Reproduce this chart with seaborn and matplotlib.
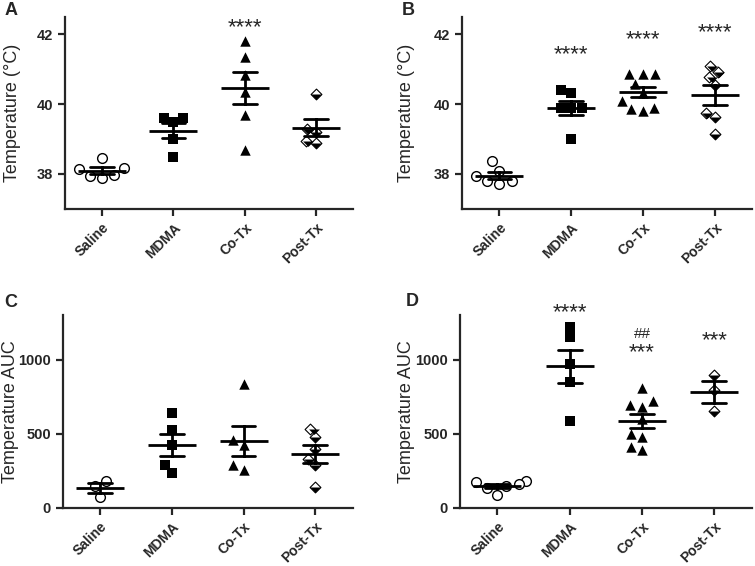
import numpy as np
import pandas as pd
import matplotlib
matplotlib.use('Agg')
import matplotlib.pyplot as plt
from matplotlib.markers import MarkerStyle
import seaborn as sns

groups = ['Saline', 'MDMA', 'Co-Tx', 'Post-Tx']

# Panel A - peak temperature (°C)
a_saline = [38.47, 38.18, 38.14, 37.97, 37.88, 37.95]
a_mdma = [39.6, 39.5, 39.6, 39.0, 38.5]
a_cotx = [41.8, 41.35, 40.85, 40.35, 39.7, 38.7]
a_posttx = [40.3, 39.2, 39.3, 38.9, 38.95]

# Panel B - peak temperature (°C)
b_saline = [38.36, 38.08, 37.95, 37.79, 37.71, 37.79]
b_mdma = [40.31, 40.4, 39.89, 39.89, 39.89, 39.0]
b_cotx = [40.86, 40.86, 40.86, 40.57, 40.33, 40.09, 39.86, 39.81, 39.9]
b_posttx = [40.93, 41.09, 40.78, 40.55, 39.76, 39.62, 39.14]

# Panel C - temperature AUC
c_saline = [180, 148, 74]
c_mdma = [643, 528, 422, 288, 236]
c_cotx = [838, 456, 422, 288, 254]
c_posttx = [535, 479, 400, 333, 292, 142]

# Panel D - temperature AUC
d_saline = [180, 175, 162, 150, 135, 90]
d_mdma = [1217, 1149, 971, 848, 586]
d_cotx = [807, 718, 680, 691, 602, 501, 478, 389, 411]
d_posttx = [897, 796, 651]

# significance labels: (group, text, y, fontsize)
a_marks = [('Co-Tx', '****', 42.2, 16)]
b_marks = [('MDMA', '****', 41.41, 16), ('Co-Tx', '****', 41.85, 16), ('Post-Tx', '****', 42.05, 16)]
c_marks = []
d_marks = [('MDMA', '****', 1315, 16), ('Co-Tx', '##', 1172, 11), ('Co-Tx', '***', 1045, 16),
           ('Post-Tx', '***', 1125, 16)]


def to_frame(vals):
    rows = []
    for g, v in zip(groups, vals):
        rows += [(g, x) for x in v]
    return pd.DataFrame(rows, columns=['group', 'value'])


sns.set_style('ticks')
plt.rcParams['font.family'] = ['Liberation Sans', 'DejaVu Sans']

fig = plt.figure(figsize=(7.55, 5.66), dpi=100)

panels = [
    ('A', [a_saline, a_mdma, a_cotx, a_posttx], a_marks, 'Temperature (°C)', (37, 42.5), [38, 40, 42],
     [0.086, 0.631, 0.382, 0.339], (0.006, 0.981), -0.153),
    ('B', [b_saline, b_mdma, b_cotx, b_posttx], b_marks, 'Temperature (°C)', (37, 42.5), [38, 40, 42],
     [0.612, 0.631, 0.384, 0.339], (0.532, 0.981), -0.162),
    ('C', [c_saline, c_mdma, c_cotx, c_posttx], c_marks, 'Temperature AUC', (0, 1300), [0, 500, 1000],
     [0.083, 0.1025, 0.384, 0.341], (0.006, 0.466), -0.152),
    ('D', [d_saline, d_mdma, d_cotx, d_posttx], d_marks, 'Temperature AUC', (0, 1300), [0, 500, 1000],
     [0.609, 0.1025, 0.387, 0.341], (0.538, 0.468), -0.154),
]

styles = {
    'Saline': dict(marker='o', color='white', edgecolor='black', linewidth=1, size=7),
    'MDMA': dict(marker='s', color='black', edgecolor='black', linewidth=0, size=6.5),
    'Co-Tx': dict(marker='^', color='black', edgecolor='black', linewidth=0, size=7.5),
    'Post-Tx': dict(marker='D', color='white', edgecolor='black', linewidth=0.8, size=5.5),
}
spread = 1.1  # swarm computed with slightly bigger markers, then shrunk (GraphPad-like spacing)

axes = []
for letter, vals, marks, ylabel, ylim, yticks, pos, lpos, ylab_x in panels:
    ax = fig.add_axes(pos)
    axes.append(ax)
    df = to_frame(vals)
    for g in groups:
        sub = df[df['group'] == g]
        st = dict(styles[g])
        st['size'] = st['size'] * spread
        sns.swarmplot(data=sub, x='group', y='value', order=groups, ax=ax, zorder=2, **st)
        if g == 'Post-Tx':
            # black lower half of the diamond
            st.update(marker=MarkerStyle('D', fillstyle='bottom'), color='black', linewidth=0)
            sns.swarmplot(data=sub, x='group', y='value', order=groups, ax=ax, zorder=2.1, **st)

    # mean +/- SEM
    sns.pointplot(data=df, x='group', y='value', order=groups, ax=ax, errorbar='se',
                  capsize=0.33, color='black', marker='_', markersize=34, markeredgewidth=2,
                  linestyle='none', err_kws={'linewidth': 2}, zorder=5)

    for g, txt, y, fs in marks:
        ax.text(groups.index(g), y, txt, ha='center', va='center', fontsize=fs, clip_on=False)

    ax.set_xlim(-0.52, 3.52)
    ax.set_ylim(*ylim)
    ax.set_yticks(yticks)
    ax.set_xlabel('')
    ax.set_ylabel(ylabel, fontsize=13)
    ax.yaxis.set_label_coords(ylab_x, 0.5)
    sns.despine(ax=ax)
    for s in ['left', 'bottom']:
        ax.spines[s].set_linewidth(1.6)
    ax.tick_params(width=1.6, length=5, labelsize=10.5)
    for lab in ax.get_yticklabels():
        lab.set_fontweight('bold')
    ax.set_xticks(range(len(groups)))
    ax.set_xticklabels(groups, rotation=45, ha='right', rotation_mode='anchor',
                       fontweight='bold', fontsize=10)
    fig.text(lpos[0], lpos[1], letter, fontsize=13, fontweight='bold', ha='left', va='center')

# fix swarm positions, then shrink markers back to their real size
fig.canvas.draw()
for ax in axes:
    for coll in ax.collections:
        if 'draw' in coll.__dict__:
            del coll.draw
        coll.set_sizes(coll.get_sizes() / spread ** 2)

fig.savefig('out.png', dpi=100, facecolor='white')
